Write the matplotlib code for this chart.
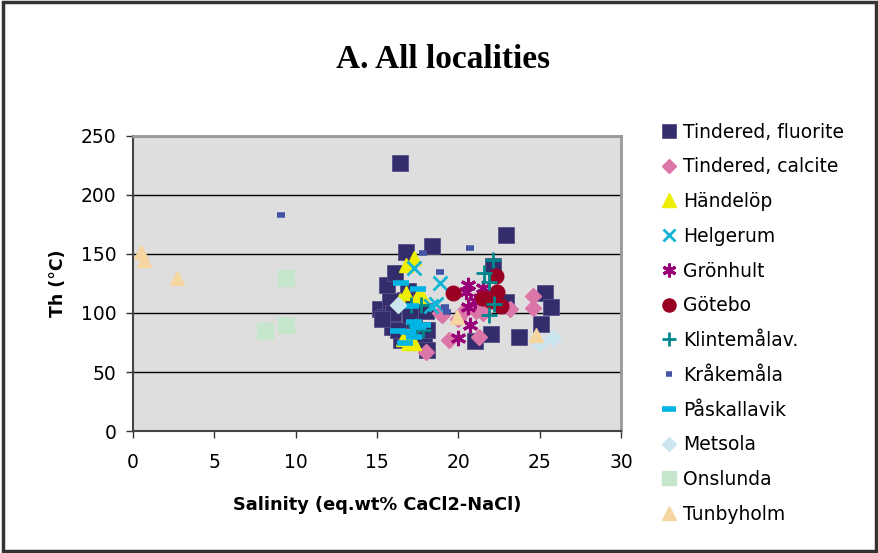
import matplotlib
matplotlib.use("Agg")
from matplotlib import pyplot as plt
from matplotlib.patches import Rectangle

# Salinity (x) and Th (y) per locality
fluorite_x = [16.4, 18.4, 16.8, 22.9, 15.6, 16.1, 15.2, 15.5, 15.9, 16.5, 16.9, 16.5,
              17.9, 18.1, 17.3, 18.1, 16.3, 16.7, 15.8, 22.1, 25.3, 25.7, 25.1, 22.0,
              23.7, 21.0, 22.9, 16.0, 17.0, 18.0, 15.3]
fluorite_y = [227, 157, 152, 166, 124, 134, 103, 97, 88, 77, 119, 108,
              77, 69, 94, 86, 86, 111, 110, 140, 117, 105, 91, 82,
              80, 76, 109, 100, 98, 102, 95]
calcite_x = [24.6, 24.6, 23.2, 21.3, 19.4, 18.0, 19.0, 20.3, 21.5, 18.9, 21.1, 20.0]
calcite_y = [114, 104, 103, 80, 77, 67, 98, 101, 100, 100, 102, 95]
handelop_x = [17.3, 16.8, 16.8, 17.5, 17.8, 16.4, 16.9, 17.3, 16.6]
handelop_y = [147, 141, 117, 115, 113, 111, 75, 75, 78]
helgerum_x = [17.3, 18.9, 18.6, 18.3]
helgerum_y = [138, 125, 108, 106]
gronhult_x = [20.6, 20.5, 20.6, 20.7, 20.0, 21.5, 21.0]
gronhult_y = [124, 118, 105, 90, 79, 121, 110]
gotebo_x = [19.7, 21.5, 22.3, 22.4, 22.6, 22.0]
gotebo_y = [117, 113, 131, 118, 106, 110]
klinte_x = [22.1, 21.6, 21.9, 22.2, 21.9, 17.1, 17.7, 17.8, 17.4]
klinte_y = [145, 134, 126, 108, 98, 107, 107, 86, 89]
krake_x = [9.1, 20.7, 17.8, 18.9, 19.2, 19.3]
krake_y = [183, 155, 151, 135, 105, 101]
paskall_x = [16.5, 17.5, 17.1, 17.3, 17.5, 16.9, 17.3, 16.7, 16.3, 17.8]
paskall_y = [125, 120, 106, 92, 88, 84, 80, 75, 85, 90]
metsola_x = [16.3, 25.8, 25.0]
metsola_y = [107, 79, 75]
onslunda_x = [9.4, 9.4, 8.1]
onslunda_y = [130, 90, 85]
tunby_x = [0.5, 0.7, 2.7, 19.9, 24.8]
tunby_y = [152, 145, 130, 97, 81]

x_ticks = [0, 5, 10, 15, 20, 25, 30]
y_ticks = [0, 50, 100, 150, 200, 250]

fig = plt.figure(figsize=(8.79, 5.53), dpi=100)
fig.patches.append(Rectangle((0.003, 0.004), 0.994, 0.992, transform=fig.transFigure,
                             fill=False, edgecolor="#333333", linewidth=2.5))
ax = fig.add_axes([0.1513, 0.2206, 0.5552, 0.5335])
ax.set_facecolor("#DEDEDE")

series = [
    ("Tindered, fluorite", fluorite_x, fluorite_y, dict(marker="s", ms=11, mfc="#332D6B", mec="#55508A", mew=0.6)),
    ("Tindered, calcite", calcite_x, calcite_y, dict(marker="D", ms=8, mfc="#DC76A8", mec="#DC76A8")),
    ("Händelöp", handelop_x, handelop_y, dict(marker="^", ms=10.5, mfc="#EEEE00", mec="#EEEE00")),
    ("Helgerum", helgerum_x, helgerum_y, dict(marker="x", ms=10, mec="#14B4D4", mew=2)),
    ("Grönhult", gronhult_x, gronhult_y, dict(marker=(6, 2, 0), ms=11, mec="#990077", mew=2.2)),
    ("Götebo", gotebo_x, gotebo_y, dict(marker="o", ms=10.5, mfc="#990022", mec="#990022")),
    ("Klintemålav.", klinte_x, klinte_y, dict(marker="+", ms=11, mec="#00888C", mew=2)),
    ("Kråkemåla", krake_x, krake_y, dict(marker="_", ms=5.5, mec="#4455A8", mew=4)),
    ("Påskallavik", paskall_x, paskall_y, dict(marker="_", ms=11, mec="#00B4E4", mew=4)),
    ("Metsola", metsola_x, metsola_y, dict(marker="D", ms=8, mfc="#CCE6F0", mec="#CCE6F0")),
    ("Onslunda", onslunda_x, onslunda_y, dict(marker="s", ms=11, mfc="#C6E6CC", mec="#C6E6CC")),
    ("Tunbyholm", tunby_x, tunby_y, dict(marker="^", ms=10.5, mfc="#F6D6A0", mec="#F6D6A0")),
]
for name, xs, ys, style in series:
    ax.plot(xs, ys, linestyle="none", label=name, **style)

ax.set_xlim(0, 30)
ax.set_ylim(0, 250)
ax.set_xticks(x_ticks)
ax.set_yticks(y_ticks)
ax.yaxis.grid(True, color="black", linewidth=1)
ax.set_axisbelow(True)
for side in ["top", "right"]:
    ax.spines[side].set_color("#999999")
    ax.spines[side].set_linewidth(2)
for side in ["left", "bottom"]:
    ax.spines[side].set_color("#444444")
    ax.spines[side].set_linewidth(1.5)
ax.tick_params(direction="out", length=5, width=1, labelsize=13.5, color="#333333")
ax.tick_params(axis="x", pad=11)
ax.tick_params(axis="y", pad=7)

ax.set_xlabel("Salinity (eq.wt% CaCl2-NaCl)", fontsize=12.8, fontweight="bold", labelpad=17)
ax.set_ylabel("Th (°C)", fontsize=12.5, fontweight="bold", labelpad=10)
fig.text(0.504, 0.893, "A. All localities", ha="center", va="center",
         family="Liberation Serif", fontweight="bold", fontsize=24)

ax.legend(loc="upper left", bbox_to_anchor=(0.743, 0.792), bbox_transform=fig.transFigure,
          frameon=False, fontsize=13.5, handlelength=0.9, handletextpad=0.3,
          labelspacing=0.84, borderaxespad=0, numpoints=1, markerscale=0.9)

plt.savefig("out.png", dpi=100)
